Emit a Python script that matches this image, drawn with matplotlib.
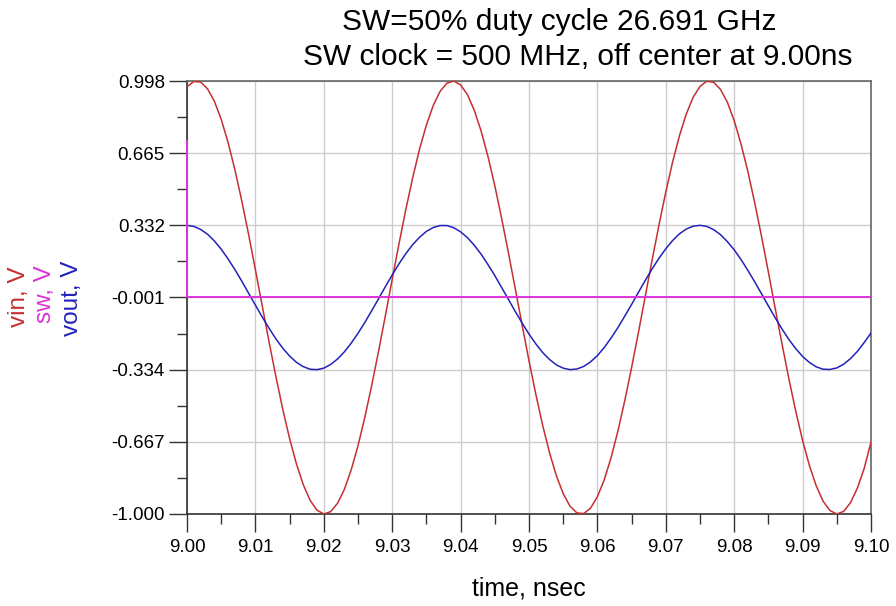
import numpy as np
import matplotlib
matplotlib.use("Agg")
import matplotlib.pyplot as plt
from matplotlib.ticker import FixedLocator, MultipleLocator

plt.rcParams['font.family'] = ['Liberation Sans', 'DejaVu Sans']

# time grid, ns (1 ps steps)
time_ns = np.round(np.linspace(9.000, 9.100, 101), 3)

# vin, V
vin = [
    0.971, 0.996, 0.993, 0.962, 0.905, 0.821, 0.715, 0.589, 0.446, 0.291,
    0.127, -0.040, -0.206, -0.366, -0.517, -0.652, -0.769, -0.865, -0.937, -0.982,
    -1.000, -0.989, -0.951, -0.887, -0.797, -0.685, -0.554, -0.407, -0.250, -0.085,
    0.083, 0.248, 0.406, 0.552, 0.684, 0.795, 0.885, 0.950, 0.988, 0.998,
    0.980, 0.935, 0.863, 0.767, 0.650, 0.515, 0.364, 0.204, 0.038, -0.129,
    -0.293, -0.448, -0.591, -0.717, -0.823, -0.906, -0.964, -0.995, -0.998, -0.973,
    -0.920, -0.842, -0.740, -0.617, -0.477, -0.324, -0.162, 0.005, 0.172, 0.333,
    0.486, 0.625, 0.746, 0.846, 0.923, 0.973, 0.997, 0.992, 0.959, 0.900,
    0.815, 0.707, 0.580, 0.436, 0.280, 0.116, -0.052, -0.217, -0.377, -0.526,
    -0.661, -0.777, -0.871, -0.941, -0.984, -1.000, -0.988, -0.948, -0.881, -0.790,
    -0.668,
]

# vout, V  (blue trace)
vout = [
    0.332, 0.327, 0.313, 0.291, 0.260, 0.222, 0.177, 0.128, 0.075, 0.019,
    -0.036, -0.091, -0.143, -0.192, -0.235, -0.271, -0.300, -0.320, -0.332, -0.334,
    -0.327, -0.310, -0.285, -0.252, -0.212, -0.166, -0.116, -0.062, -0.007, 0.049,
    0.103, 0.155, 0.202, 0.243, 0.277, 0.304, 0.322, 0.331, 0.331, 0.321,
    0.302, 0.275, 0.240, 0.199, 0.151, 0.100, 0.045, -0.010, -0.066, -0.119,
    -0.170, -0.215, -0.255, -0.287, -0.312, -0.327, -0.334, -0.331, -0.319, -0.298,
    -0.269, -0.232, -0.188, -0.140, -0.087, -0.033, 0.023, 0.078, 0.131, 0.180,
    0.224, 0.262, 0.293, 0.315, 0.328, 0.332, 0.327, 0.312, 0.289, 0.257,
    0.219, 0.174, 0.124, 0.071, 0.016, -0.040, -0.095, -0.147, -0.195, -0.237,
    -0.273, -0.301, -0.321, -0.332, -0.333, -0.326, -0.309, -0.283, -0.250, -0.209,
    -0.165,
]

# sw, V  (spike at 9.00 then flat)
sw_time = [9.000, 9.000, 9.100]
sw = [0.720, -0.001, -0.001]

y_ticks = [0.998, 0.665, 0.332, -0.001, -0.334, -0.667, -1.000]
x_ticks = [9.00, 9.01, 9.02, 9.03, 9.04, 9.05, 9.06, 9.07, 9.08, 9.09, 9.10]

RED = '#c4302f'
MAG = '#dd33dd'
BLUE = '#2222bb'

fig = plt.figure(figsize=(8.96, 6.06), dpi=100)
ax = fig.add_axes([187/896, 1-514/606, (871-187)/896, (514-81)/606])

ax.plot(time_ns, vin, color=RED, lw=1.1, zorder=3)
ax.plot(time_ns, vout, color=BLUE, lw=1.1, zorder=3)
ax.plot(sw_time, sw, color=MAG, lw=1.4, zorder=4, clip_on=False)

ax.set_xlim(9.00, 9.10)
ax.set_ylim(-1.000, 0.998)

ax.xaxis.set_major_locator(FixedLocator(x_ticks))
ax.xaxis.set_minor_locator(MultipleLocator(0.005))
ax.yaxis.set_major_locator(FixedLocator(y_ticks))
ax.yaxis.set_minor_locator(FixedLocator([(a + b) / 2 for a, b in zip(y_ticks[:-1], y_ticks[1:])]))
ax.set_xticklabels(['%.2f' % v for v in x_ticks])
ax.set_yticklabels(['%.3f' % v for v in y_ticks])

ax.grid(True, which='major', color='#cccccc', lw=1.0, zorder=0)
ax.tick_params(which='major', direction='out', length=13, width=1.0, color='#333333',
               labelsize=13.5, pad=3)
ax.tick_params(axis='x', which='major', pad=5)
ax.tick_params(which='minor', direction='out', length=7, width=1.0, color='#333333')
for s in ['left', 'bottom']:
    ax.spines[s].set_color('#333333')
for s in ['top', 'right']:
    ax.spines[s].set_color('#666666')
for s in ax.spines.values():
    s.set_linewidth(1.2)

ax.set_xlabel('time, nsec', fontsize=18, labelpad=15)

# coloured stacked y labels
fig.text(19/896, 1-297/606, 'vin, V', color=RED, rotation=90, fontsize=17.5,
         ha='center', va='center')
fig.text(45/896, 1-294/606, 'sw, V', color=MAG, rotation=90, fontsize=17.5,
         ha='center', va='center')
fig.text(72/896, 1-298/606, 'vout, V', color=BLUE, rotation=90, fontsize=17.5,
         ha='center', va='center')

fig.text(559/896, 1-22/606, 'SW=50% duty cycle 26.691 GHz', fontsize=21.5,
         ha='center', va='center')
fig.text(578/896, 1-57/606, 'SW clock = 500 MHz, off center at 9.00ns', fontsize=21.5,
         ha='center', va='center')

fig.savefig('out.png', dpi=100)
